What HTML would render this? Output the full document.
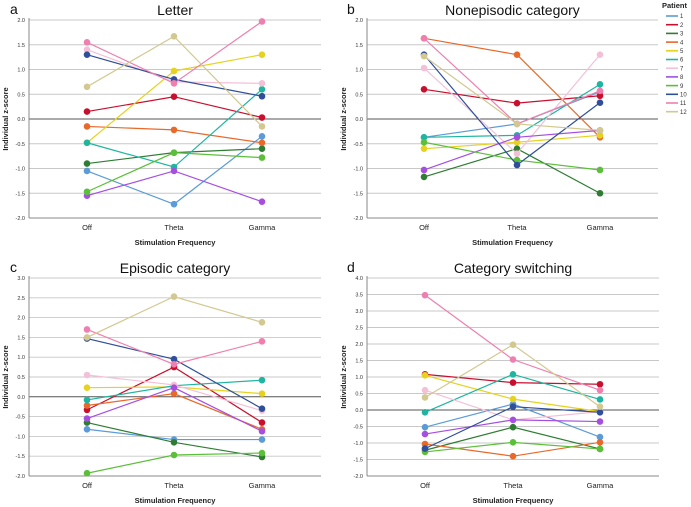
<!DOCTYPE html>
<html><head><meta charset="utf-8"><style>
body{margin:0;background:#fff;}
svg{display:block;font-family:"Liberation Sans",sans-serif;}
</style></head><body>
<svg id="fig" width="691" height="507" viewBox="0 0 691 507"></svg>
<script>
const categories=["Off","Theta","Gamma"];
const patients=["1","2","3","4","5","6","7","8","9","10","11","12"];
const colors=["#5b9bd8","#c8102e","#2e7d32","#e8692a","#e6d21f","#1fb5a0","#f4c0d8","#a64ee0","#5cbf3a","#2f4f9a","#ef7fae","#d2c890"];
const letterVals=[[-1.05,-1.72,-0.35],[0.15,0.45,0.03],[-0.9,-0.68,-0.6],[-0.15,-0.22,-0.48],[-0.48,0.97,1.3],[-0.48,-0.97,0.6],[1.4,0.75,0.72],[-1.55,-1.05,-1.67],[-1.47,-0.68,-0.78],[1.3,0.8,0.46],[1.55,0.72,1.97],[0.65,1.67,-0.15]];
const nonepiVals=[[-0.37,-0.1,0.55],[0.6,0.32,0.47],[-1.17,-0.6,-1.5],[1.63,1.3,-0.37],[-0.6,-0.47,-0.33],[-0.37,-0.33,0.7],[1.03,-0.7,1.3],[-1.03,-0.37,-0.23],[-0.47,-0.83,-1.03],[1.3,-0.93,0.33],[1.63,-0.1,0.57],[1.27,-0.1,-0.23]];
const epiVals=[[-0.82,-1.08,-1.08],[-0.33,0.75,-0.65],[-0.65,-1.15,-1.52],[-0.22,0.08,-0.82],[0.23,0.25,0.08],[-0.08,0.28,0.42],[0.55,0.3,-0.35],[-0.55,0.23,-0.87],[-1.93,-1.47,-1.42],[1.47,0.95,-0.3],[1.7,0.82,1.4],[1.5,2.53,1.88]];
const switchVals=[[-0.52,0.18,-0.82],[1.08,0.83,0.78],[-1.22,-0.52,-1.18],[-1.03,-1.4,-0.98],[1.05,0.33,-0.05],[-0.07,1.08,0.32],[0.6,-0.3,-0.05],[-0.73,-0.3,-0.35],[-1.27,-0.98,-1.18],[-1.17,0.1,-0.07],[3.48,1.53,0.6],[0.38,1.98,0.1]];
const ticksA=["-2.0","-1.5","-1.0","-0.5","0.0","0.5","1.0","1.5","2.0"];
const ticksC=["-2.0","-1.5","-1.0","-0.5","0.0","0.5","1.0","1.5","2.0","2.5","3.0"];
const ticksD=["-2.0","-1.5","-1.0","-0.5","0.0","0.5","1.0","1.5","2.0","2.5","3.0","3.5","4.0"];

const NS="http://www.w3.org/2000/svg";
const svg=document.getElementById('fig');
function mk(tag,attrs,parent,text){const e=document.createElementNS(NS,tag);for(const k in attrs)e.setAttribute(k,attrs[k]);if(text!==undefined)e.textContent=text;(parent||svg).appendChild(e);return e;}

function panel(p){
  const g=mk('g',{},svg);
  
  
  const ymin=+p.ticks[0], ymax=+p.ticks[p.ticks.length-1];
  const ys=v=>p.bottom-(v-ymin)/(ymax-ymin)*(p.bottom-p.top);
  const xs=i=>p.xc[i];
  p.ticks.forEach(t=>{
    const y=ys(+t);
    const gl=mk('line',{x1:p.left,x2:p.right,y1:y,y2:y,stroke:+t===0?'#555':'#c8c8c8','stroke-width':+t===0?1:0.9},g);
    
    
    const tl=mk('text',{x:p.left-4,y:y+2,'font-size':5.5,'text-anchor':'end',fill:'#333'},g,t);
    
    
  });
  mk('line',{x1:p.left,x2:p.left,y1:p.top-2,y2:p.bottom,stroke:'#888','stroke-width':1},g);
  mk('line',{x1:p.left,x2:p.right,y1:p.bottom,y2:p.bottom,stroke:'#888','stroke-width':1},g);
  categories.forEach((c,i)=>{
    const t=mk('text',{x:xs(i),y:p.bottom+12,'font-size':7.5,'text-anchor':'middle',fill:'#222'},g,c);
    
    
  });
  const xt=mk('text',{x:(p.left+p.right)/2,y:p.bottom+27,'font-size':7.5,'font-weight':'bold','text-anchor':'middle',fill:'#222'},g,'Stimulation Frequency');
  
  
  const yt=mk('text',{x:0,y:0,'font-size':7.5,'font-weight':'bold','text-anchor':'middle',fill:'#222',transform:`translate(${p.left-21},${(p.top+p.bottom)/2}) rotate(-90)`},g,'Individual z-score');
  
  
  const ti=mk('text',{x:(p.left+p.right)/2,y:p.top-5,'font-size':14,'text-anchor':'middle',fill:'#111'},g,p.title);
  
  
  const lb=mk('text',{x:p.labelX,y:p.top-6,'font-size':14,fill:'#111'},g,p.id);
  
  
  p.vals.forEach((row,k)=>{
    const pts=row.map((v,i)=>xs(i)+','+ys(v)).join(' ');
    const pl=mk('polyline',{points:pts,fill:'none',stroke:colors[k],'stroke-width':1.2},g);
    
    
    row.forEach((v,i)=>{
      const c=mk('circle',{cx:xs(i),cy:ys(v),r:3.3,fill:colors[k]},g);
      
      
    });
  });
}
panel({id:'a',title:'Letter',vals:letterVals,ticks:ticksA,left:29,right:321,top:20,bottom:218,xc:[87,174,262],labelX:10});
panel({id:'b',title:'Nonepisodic category',vals:nonepiVals,ticks:ticksA,left:367,right:658,top:20,bottom:218,xc:[424,517,600],labelX:347});
panel({id:'c',title:'Episodic category',vals:epiVals,ticks:ticksC,left:29,right:321,top:278,bottom:476,xc:[87,174,262],labelX:10});
panel({id:'d',title:'Category switching',vals:switchVals,ticks:ticksD,left:367,right:659,top:278,bottom:476,xc:[425,513,600],labelX:347});

const lg=mk('g',{},svg);


const lt=mk('text',{x:662,y:8,'font-size':7.5,'font-weight':'bold',fill:'#222'},lg,'Patient');


patients.forEach((p,k)=>{
  const y=16+k*8.7;
  const e=mk('g',{},lg);
  
  
  mk('line',{x1:666,x2:678,y1:y,y2:y,stroke:colors[k],'stroke-width':1.6},e);
  mk('text',{x:680,y:y+2.2,'font-size':6,fill:'#333'},e,p);
});
</script>
</body></html>
